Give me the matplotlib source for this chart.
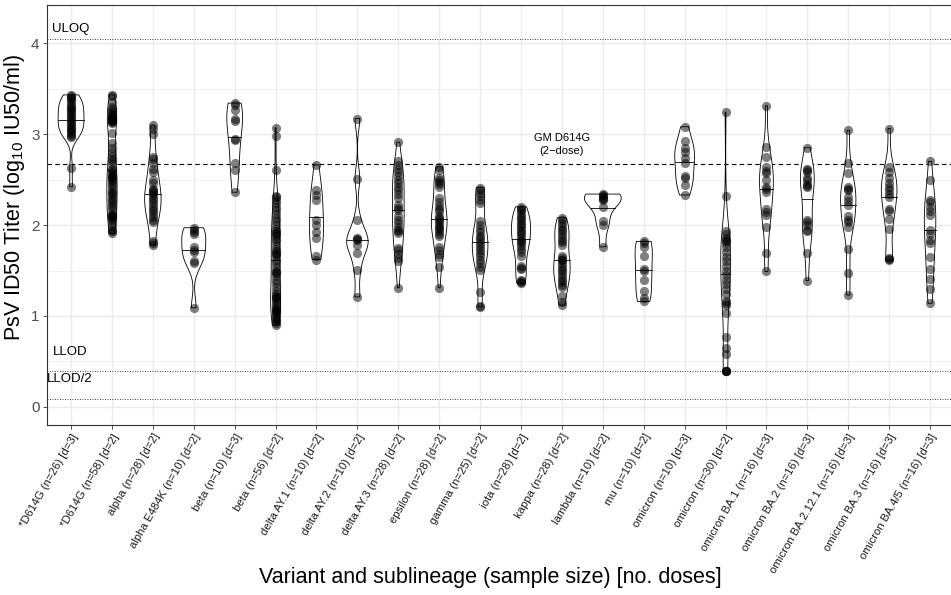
import numpy as np
import matplotlib
matplotlib.use("Agg")
import matplotlib.pyplot as plt
from matplotlib.ticker import MultipleLocator

plt.rcParams["font.family"] = ["Liberation Sans", "DejaVu Sans"]

# ---- data (log10 IU50/ml) ----
LABELS = [
    "*D614G (n=26) [d=3]", "*D614G (n=58) [d=2]", "alpha (n=28) [d=2]",
    "alpha E484K (n=10) [d=2]", "beta (n=10) [d=3]", "beta (n=56) [d=2]",
    "delta AY.1 (n=10) [d=2]", "delta AY.2 (n=10) [d=2]", "delta AY.3 (n=28) [d=2]",
    "epsilon (n=28) [d=2]", "gamma (n=25) [d=2]", "iota (n=28) [d=2]",
    "kappa (n=28) [d=2]", "lambda (n=10) [d=2]", "mu (n=10) [d=2]",
    "omicron (n=10) [d=3]", "omicron (n=30) [d=2]", "omicron BA.1 (n=16) [d=3]",
    "omicron BA.2 (n=16) [d=3]", "omicron BA.2.12.1 (n=16) [d=3]",
    "omicron BA.3 (n=16) [d=3]", "omicron BA.4/5 (n=16) [d=3]",
]

d614g_3 = [3.43, 3.42, 3.40, 3.38, 3.36, 3.33, 3.31, 3.29, 3.27, 3.25, 3.23, 3.21, 3.19,
           3.16, 3.14, 3.12, 3.10, 3.08, 3.06, 3.04, 3.02, 3.00, 2.98, 2.97, 2.63, 2.42]
d614g_2 = [3.43, 3.42, 3.35, 3.30, 3.27, 3.25, 3.23, 3.21, 3.20, 3.19, 3.18, 3.17, 3.16,
           3.15, 3.15, 3.14, 3.13, 3.12, 3.01, 2.90, 2.85, 2.80, 2.76, 2.73, 2.70, 2.67,
           2.62, 2.60, 2.58, 2.55, 2.54, 2.53, 2.52, 2.50, 2.48, 2.45, 2.43, 2.40, 2.36,
           2.35, 2.33, 2.30, 2.28, 2.25, 2.22, 2.20, 2.17, 2.12, 2.11, 2.10, 2.09, 2.08,
           2.05, 2.02, 1.99, 1.95, 1.93, 1.91]
alpha = [3.10, 3.05, 3.00, 2.75, 2.72, 2.68, 2.62, 2.58, 2.50, 2.46, 2.40, 2.38, 2.36, 2.35,
         2.33, 2.30, 2.27, 2.24, 2.21, 2.18, 2.15, 2.12, 2.09, 2.06, 2.03, 1.82, 1.80, 1.78]
alpha_e484k = [1.97, 1.94, 1.92, 1.90, 1.76, 1.72, 1.70, 1.60, 1.58, 1.09]
beta_3 = [3.34, 3.32, 3.26, 3.16, 3.14, 2.94, 2.93, 2.68, 2.60, 2.36]
beta_2 = [3.07, 2.98, 2.60, 2.32, 2.31, 2.28, 2.24, 2.20, 2.16, 2.12, 2.08, 2.04, 2.00, 1.96,
          1.93, 1.91, 1.90, 1.88, 1.85, 1.82, 1.78, 1.74, 1.71, 1.69, 1.68, 1.66, 1.62, 1.58,
          1.54, 1.50, 1.48, 1.47, 1.44, 1.40, 1.36, 1.32, 1.28, 1.24, 1.22, 1.21, 1.20, 1.18,
          1.15, 1.12, 1.10, 1.08, 1.07, 1.06, 1.04, 1.02, 1.00, 0.98, 0.96, 0.94, 0.92, 0.90]
delta_ay1 = [2.66, 2.38, 2.33, 2.27, 2.06, 2.00, 1.92, 1.86, 1.66, 1.62]
delta_ay2 = [3.17, 2.51, 2.05, 1.86, 1.85, 1.83, 1.78, 1.69, 1.51, 1.21]
delta_ay3 = [2.91, 2.70, 2.66, 2.62, 2.58, 2.54, 2.50, 2.46, 2.42, 2.38, 2.34, 2.30, 2.22, 2.19,
             2.16, 2.10, 2.06, 2.02, 1.98, 1.94, 1.93, 1.91, 1.75, 1.72, 1.68, 1.64, 1.60, 1.31]
epsilon = [2.64, 2.60, 2.52, 2.49, 2.47, 2.45, 2.42, 2.30, 2.25, 2.21, 2.18, 2.15, 2.10, 2.08,
           2.05, 2.03, 2.00, 1.98, 1.96, 1.93, 1.90, 1.88, 1.76, 1.72, 1.68, 1.65, 1.54, 1.31]
gamma = [2.41, 2.38, 2.35, 2.32, 2.28, 2.24, 2.04, 2.00, 1.96, 1.92, 1.88, 1.86, 1.82, 1.79,
         1.76, 1.72, 1.69, 1.66, 1.62, 1.58, 1.54, 1.51, 1.26, 1.11, 1.10]
iota = [2.20, 2.18, 2.16, 2.13, 2.10, 2.08, 2.05, 2.02, 2.00, 1.98, 1.95, 1.92, 1.90, 1.87,
        1.84, 1.82, 1.80, 1.77, 1.74, 1.70, 1.66, 1.55, 1.53, 1.52, 1.40, 1.38, 1.37, 1.36]
kappa = [2.08, 2.05, 2.02, 1.99, 1.96, 1.93, 1.90, 1.87, 1.84, 1.81, 1.78, 1.66, 1.64, 1.62,
         1.61, 1.58, 1.55, 1.52, 1.49, 1.46, 1.43, 1.40, 1.37, 1.34, 1.32, 1.22, 1.15, 1.12]
lambda_ = [2.34, 2.33, 2.32, 2.30, 2.29, 2.27, 2.20, 2.04, 2.00, 1.76]
mu = [1.82, 1.80, 1.76, 1.66, 1.52, 1.50, 1.40, 1.27, 1.20, 1.16]
omicron_3 = [3.08, 2.92, 2.85, 2.80, 2.74, 2.68, 2.54, 2.52, 2.44, 2.33]
omicron_2 = [3.24, 2.32, 1.93, 1.90, 1.86, 1.84, 1.82, 1.80, 1.76, 1.70, 1.65, 1.60, 1.55, 1.50,
             1.45, 1.40, 1.35, 1.30, 1.24, 1.16, 1.14, 1.12, 1.03, 0.77, 0.65, 0.58,
             0.39, 0.39, 0.39, 0.39]
ba1 = [3.31, 2.86, 2.75, 2.64, 2.59, 2.57, 2.50, 2.42, 2.40, 2.36, 2.18, 2.14, 2.11, 1.98, 1.69, 1.49]
ba2 = [2.85, 2.62, 2.60, 2.58, 2.52, 2.50, 2.45, 2.43, 2.42, 2.06, 2.03, 2.00, 1.95, 1.93, 1.69, 1.39]
ba2121 = [3.04, 2.68, 2.57, 2.42, 2.40, 2.38, 2.31, 2.26, 2.22, 2.10, 2.06, 2.03, 1.98, 1.74, 1.47, 1.23]
ba3 = [3.06, 2.64, 2.58, 2.52, 2.46, 2.42, 2.38, 2.34, 2.31, 2.18, 2.15, 2.07, 1.96, 1.64, 1.63, 1.61]
ba45 = [2.70, 2.49, 2.27, 2.25, 2.20, 2.15, 2.11, 1.95, 1.90, 1.83, 1.80, 1.65, 1.52, 1.41, 1.30, 1.14]

GROUPS = [d614g_3, d614g_2, alpha, alpha_e484k, beta_3, beta_2, delta_ay1, delta_ay2,
          delta_ay3, epsilon, gamma, iota, kappa, lambda_, mu, omicron_3, omicron_2,
          ba1, ba2, ba2121, ba3, ba45]

GM_D614G = 2.667
ULOQ = 4.04
LLOD = 0.39
LLOD_HALF = LLOD - np.log10(2)


def nrd0(x):
    hi = np.std(x, ddof=1)
    q75, q25 = np.percentile(x, [75, 25])
    lo = min(hi, (q75 - q25) / 1.34)
    if not lo:
        lo = hi or abs(x[0]) or 1.0
    return 0.9 * lo * len(x) ** -0.2


def ydensity(vals, n=512):
    x = np.asarray(vals, float)
    bw = nrd0(x)
    ys = np.linspace(x.min(), x.max(), n)
    dens = np.exp(-0.5 * ((ys[:, None] - x[None, :]) / bw) ** 2).sum(1)
    dens /= len(x) * bw * np.sqrt(2 * np.pi)
    return ys, dens


fig = plt.figure(figsize=(9.51, 5.95), dpi=100)
ax = fig.add_axes([46.5 / 951, 1 - 425 / 595, (954.6 - 46.5) / 951, 420 / 595])

dens_all = [ydensity(g) for g in GROUPS]
dmax = max(d.max() for _, d in dens_all)
half = 0.45

for i, (vals, (ys, d)) in enumerate(zip(GROUPS, dens_all)):
    w = d / dmax * half
    xs = np.concatenate([i - w, (i + w)[::-1]])
    yy = np.concatenate([ys, ys[::-1]])
    ax.fill(xs, yy, facecolor="white", edgecolor="black", linewidth=0.6, zorder=3)
    cum = np.cumsum(d) / d.sum()
    ymed = np.interp(0.5, cum, ys)
    wm = np.interp(ymed, ys, w)
    ax.plot([i - wm, i + wm], [ymed, ymed], color="black", linewidth=0.6, zorder=3)
    ax.scatter(np.full(len(vals), i), vals, s=44, color="black", alpha=0.5,
               linewidths=0, zorder=4)

ax.axhline(GM_D614G, color="black", linestyle=(0, (4, 3)), linewidth=0.8, zorder=2)
for yv in (ULOQ, LLOD, LLOD_HALF):
    ax.axhline(yv, color="black", linestyle=(0, (1, 2)), linewidth=0.6, zorder=2)

ax.text(-0.47, 4.15, "ULOQ", fontsize=9.5, ha="left", va="center", color="black")
ax.text(-0.44, 0.60, "LLOD", fontsize=9.5, ha="left", va="center", color="black")
ax.text(-0.58, 0.31, "LLOD/2", fontsize=9.5, ha="left", va="center", color="black")
ax.text(12, 2.885, "GM D614G\n(2\u2212dose)", fontsize=8, ha="center", va="center",
        linespacing=1.4, color="black")

ax.set_xlim(-0.6, len(LABELS) - 0.4)
ax.set_ylim(-0.198, 4.418)
ax.set_xticks(range(len(LABELS)))
ax.set_xticklabels(LABELS, rotation=60, ha="right", va="top", rotation_mode="anchor",
                   fontsize=8.2, color="#1a1a1a")
ax.yaxis.set_major_locator(MultipleLocator(1))
ax.yaxis.set_minor_locator(MultipleLocator(0.5))
ax.tick_params(axis="y", which="major", labelsize=11, labelcolor="#4d4d4d",
               length=3, width=0.6, color="#333333", pad=2)
ax.tick_params(axis="y", which="minor", length=0)
ax.tick_params(axis="x", length=3, width=0.6, color="#333333", pad=2)

ax.grid(True, which="major", color="#ebebeb", linewidth=1.0, zorder=0)
ax.grid(True, which="minor", axis="y", color="#ebebeb", linewidth=0.5, zorder=0)
ax.set_axisbelow(True)
for sp in ax.spines.values():
    sp.set_color("#333333")
    sp.set_linewidth(0.8)

ax.set_ylabel(r"PsV ID50 Titer (log$_{\mathregular{10}}$ IU50/ml)", fontsize=15.5)
ax.yaxis.set_label_coords((27 - 46.5) / 908, (425 - 198) / 420)
fig.text(490 / 951, 1 - 578 / 595, "Variant and sublineage (sample size) [no. doses]",
         fontsize=15.5, ha="center", va="center")

fig.savefig("out.png", dpi=100, facecolor="white")
